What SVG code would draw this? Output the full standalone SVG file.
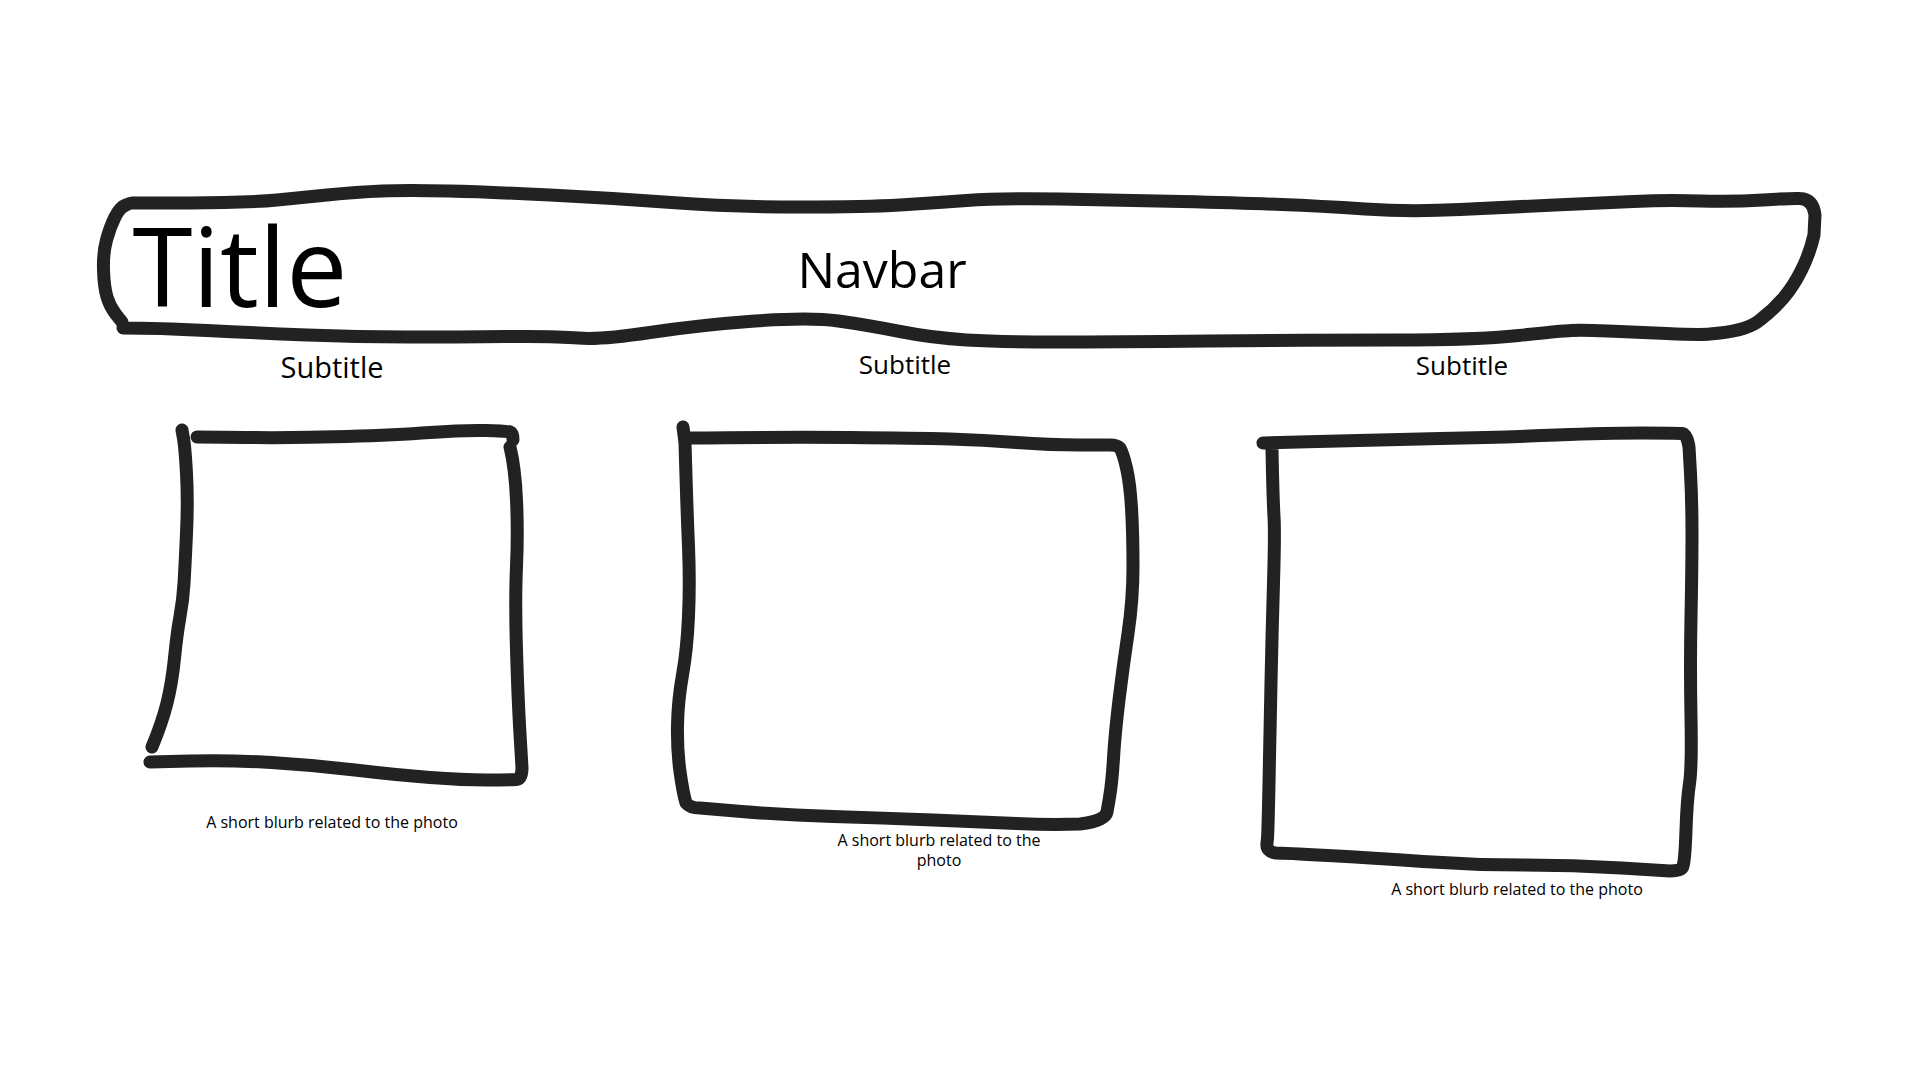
<svg xmlns="http://www.w3.org/2000/svg" width="1920" height="1080" viewBox="0 0 1920 1080">
<style>
.sk{fill:none;stroke:#222;stroke-width:13;stroke-linecap:round;stroke-linejoin:round}
.t{font-family:"Open Sans","Noto Sans","Liberation Sans",sans-serif;fill:#000;text-anchor:middle}
</style>
<rect width="1920" height="1080" fill="#fff"/>
<g id="navbar">
<path class="sk" d="M122,322 L116,314.5 Q110,307 107,297 Q104,287 103.5,270 Q103,253 106.5,240 Q110,227 115,217 Q120,207 126,205 Q130,203 132,203 L161,203 Q190,203 223.5,202.5 Q257,202 277,200 Q297,198 327,195 Q357,192 382,191 Q407,190 448.5,191 Q490,192 550,195 Q610,198 671.5,202.5 Q733,207 800,207 Q867,207 900,205 Q933,203 966.5,200.5 Q1000,198 1060,199 Q1120,200 1181.5,201.5 Q1243,203 1281.5,204.5 Q1320,206 1365,209 Q1410,212 1460,209.5 Q1510,207 1555,205 Q1600,203 1633.5,201.5 Q1667,200 1700,201 Q1733,202 1763,200 Q1793,198 1800,198.5 Q1813,199 1815,215 L1814,235 Q1810,253 1801.5,270 Q1793,287 1783,298.5 Q1773,310 1760,320 Q1748,330 1720,333 L1710,334 Q1700,335 1666.5,333.5 Q1633,332 1608,331 Q1583,330 1571.5,330.5 Q1560,331 1518.5,335.5 Q1477,340 1393.5,340 Q1310,340 1210,341 Q1110,342 1055,342 Q1000,342 966.5,340 Q933,338 900,331.5 Q867,325 838.5,321 Q810,317 755,321 Q700,325 650,332.5 Q600,340 578.5,338 Q557,336 507,336.5 Q457,337 407,337 Q357,337 307,335 Q257,333 207,330.5 Q157,328 123,328"/>
<text class="t" x="240" y="307" font-size="109">Title</text>
<text class="t" x="882" y="288" font-size="50">Navbar</text>
</g>
<g id="card1">
<text class="t" x="332" y="378" font-size="29">Subtitle</text>
<path class="sk" d="M182,430 L183.5,438.5 Q185,447 186.5,473.5 Q188,500 186.5,533.5 Q185,567 184,583.5 Q183,600 180,616.5 Q177,633 174.5,658 Q172,683 167,703 Q162,723 152,747"/>
<path class="sk" d="M150,762 L190,761 Q230,760 271.5,762.5 Q313,765 355,770 Q397,775 430,777.5 Q463,780 486.5,780 Q510,780 516,779.5 Q522,779 522,768 L520,734 Q518,700 516.5,650 Q515,600 516.5,566.5 Q518,533 516.5,500 Q515,467 510,447"/>
<path class="sk" d="M197,437 L247,437.5 Q297,438 347,436.5 Q397,435 430,432.5 Q463,430 485,430.5 Q507,431 510,432 Q513,433 513,440"/>
<text class="t" x="332" y="828" font-size="16">A short blurb related to the photo</text>
</g>
<g id="card2">
<text class="t" x="905" y="374" font-size="26">Subtitle</text>
<path class="sk" d="M683,427 L685,443 L686,476.5 Q687,510 688.5,546.5 Q690,583 688.5,616.5 Q687,650 682.5,675 Q678,700 677.5,725 Q677,750 680,771.5 Q683,793 686,803 Q690,808 700,808 L741.5,811.5 Q783,815 833,816.5 Q883,818 933,820 Q983,822 1016.5,823.5 Q1050,825 1080,824 Q1105,821 1107,812 L1109.5,797.5 Q1112,783 1113.5,758 Q1115,733 1119,700 Q1123,667 1128,633.5 Q1133,600 1133,566.5 Q1133,533 1131.5,508 Q1130,483 1126.5,468 Q1123,453 1120,448 Q1117,445 1110,445 L1080,445 Q1050,445 1016.5,442.5 Q983,440 950,439 Q917,438 850,437.5 Q783,437 687,438"/>
<text class="t" x="939" y="846" font-size="16">A short blurb related to the</text>
<text class="t" x="939" y="866" font-size="16">photo</text>
</g>
<g id="card3">
<text class="t" x="1462" y="375" font-size="26">Subtitle</text>
<path class="sk" d="M1263,443 L1318,441.5 Q1373,440 1440,438.5 Q1507,437 1557,435 Q1607,433 1642,433 Q1677,433 1682,433.5 Q1687,434 1689,447 L1690.5,473.5 Q1692,500 1692,533.5 Q1692,567 1691,617 Q1690,667 1691,717 Q1692,767 1689.5,783.5 Q1687,800 1686,830 Q1685,860 1683,866 Q1682,871 1670,871 L1621.5,868 Q1573,865 1523,865 Q1473,865 1423,861.5 Q1373,858 1328,855.5 Q1283,853 1276,853 Q1266,852 1267,843 L1267.5,838 Q1268,833 1269,783 Q1270,733 1271,683 Q1272,633 1273.5,583 Q1275,533 1274,516.5 Q1273,500 1272,450"/>
<text class="t" x="1517" y="895" font-size="16">A short blurb related to the photo</text>
</g>
<g id="connectors"/>
</svg>
